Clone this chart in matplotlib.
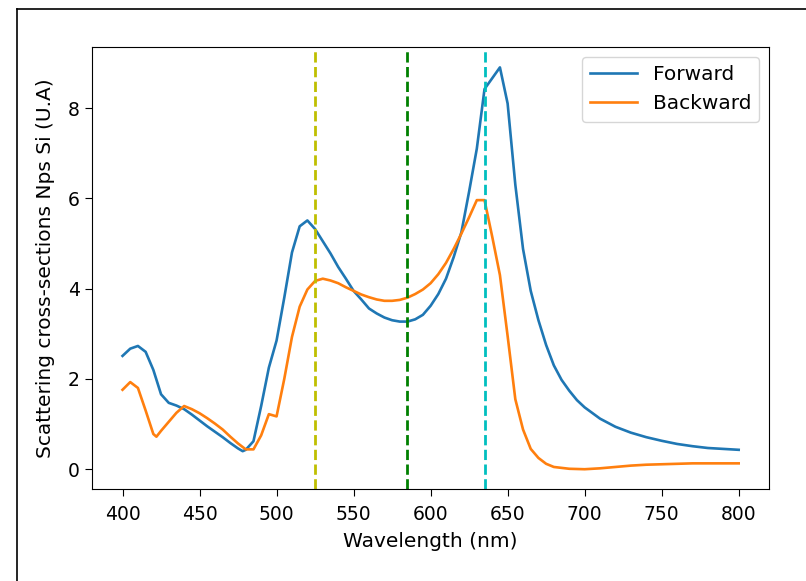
import matplotlib
matplotlib.use("Agg")
import matplotlib.pyplot as plt
from matplotlib.lines import Line2D

# Forward scattering (blue)
wl_fwd = [400, 405, 410, 415, 420, 425, 430, 435, 440, 445, 450, 455, 460, 465,
          470, 475, 478, 480, 485, 490, 495, 500, 505, 510, 515, 520, 525, 530,
          535, 540, 545, 550, 555, 560, 565, 570, 575, 580, 585, 590, 595, 600,
          605, 610, 615, 620, 625, 630, 635, 640, 645, 650, 655, 660, 665, 670,
          675, 680, 685, 690, 695, 700, 710, 720, 730, 740, 750, 760, 770, 780,
          790, 800]
forward = [2.51, 2.67, 2.73, 2.60, 2.20, 1.66, 1.47, 1.41, 1.33, 1.21, 1.08, 0.95,
           0.83, 0.71, 0.58, 0.46, 0.40, 0.43, 0.62, 1.40, 2.25, 2.85, 3.80, 4.80,
           5.38, 5.51, 5.32, 5.05, 4.78, 4.48, 4.22, 3.95, 3.76, 3.56, 3.45, 3.36,
           3.30, 3.27, 3.27, 3.32, 3.42, 3.62, 3.88, 4.22, 4.70, 5.25, 6.15, 7.10,
           8.42, 8.66, 8.90, 8.10, 6.30, 4.88, 3.95, 3.30, 2.75, 2.30, 1.98, 1.74,
           1.53, 1.37, 1.12, 0.94, 0.81, 0.71, 0.63, 0.56, 0.51, 0.47, 0.45, 0.43]

# Backward scattering (orange)
wl_bwd = [400, 405, 410, 415, 420, 422, 425, 430, 435, 440, 445, 450, 455, 460,
          465, 470, 475, 480, 485, 490, 495, 500, 505, 510, 515, 520, 525, 530,
          535, 540, 545, 550, 555, 560, 565, 570, 575, 580, 585, 590, 595, 600,
          605, 610, 615, 620, 625, 630, 635, 640, 645, 650, 655, 660, 665, 670,
          675, 680, 690, 700, 710, 720, 730, 740, 750, 760, 770, 780, 790, 800]
backward = [1.76, 1.93, 1.80, 1.30, 0.78, 0.72, 0.85, 1.05, 1.25, 1.40, 1.33, 1.24,
            1.13, 1.01, 0.88, 0.72, 0.57, 0.44, 0.44, 0.75, 1.22, 1.17, 2.00, 2.93,
            3.60, 3.98, 4.17, 4.22, 4.18, 4.12, 4.03, 3.95, 3.87, 3.81, 3.76, 3.73,
            3.73, 3.75, 3.80, 3.88, 3.98, 4.12, 4.32, 4.57, 4.88, 5.22, 5.58, 5.96,
            5.96, 5.15, 4.30, 2.95, 1.55, 0.88, 0.45, 0.25, 0.12, 0.05, 0.01, 0.00,
            0.02, 0.05, 0.08, 0.10, 0.11, 0.12, 0.13, 0.13, 0.13, 0.13]

# Vertical reference wavelengths
vlines_nm = [525, 585, 635]
vlines_colors = ["y", "g", "c"]

series_labels = ["Forward", "Backward"]
x_ticks = [400, 450, 500, 550, 600, 650, 700, 750, 800]
y_ticks = [0, 2, 4, 6, 8]

fig = plt.figure(figsize=(8.06, 5.81), dpi=100)
ax = fig.add_axes([0.1138, 0.1578, 0.8409, 0.7608])

ax.plot(wl_fwd, forward, color="#1f77b4", lw=1.9, label=series_labels[0])
ax.plot(wl_bwd, backward, color="#ff7f0e", lw=1.9, label=series_labels[1])
for v, c in zip(vlines_nm, vlines_colors):
    ax.axvline(v, color=c, ls="--", lw=2.0)

ax.set_xticks(x_ticks)
ax.set_yticks(y_ticks)
ax.tick_params(labelsize=13.5, length=5)
ax.tick_params(axis="x", pad=6)
ax.set_xlabel("Wavelength (nm)", fontsize=14.5, labelpad=6)
ax.set_ylabel("Scattering cross-sections Nps Si (U.A)", fontsize=14.5, labelpad=9)
ax.legend(loc="upper right", fontsize=14.5, handlelength=2.3)

# outer frame lines (screenshot border)
fig.add_artist(Line2D([0.021, 1.0], [0.985, 0.985], color="black", lw=1.2, transform=fig.transFigure))
fig.add_artist(Line2D([0.021, 0.021], [0.0, 0.985], color="black", lw=1.2, transform=fig.transFigure))

fig.savefig("out.png", dpi=100)
